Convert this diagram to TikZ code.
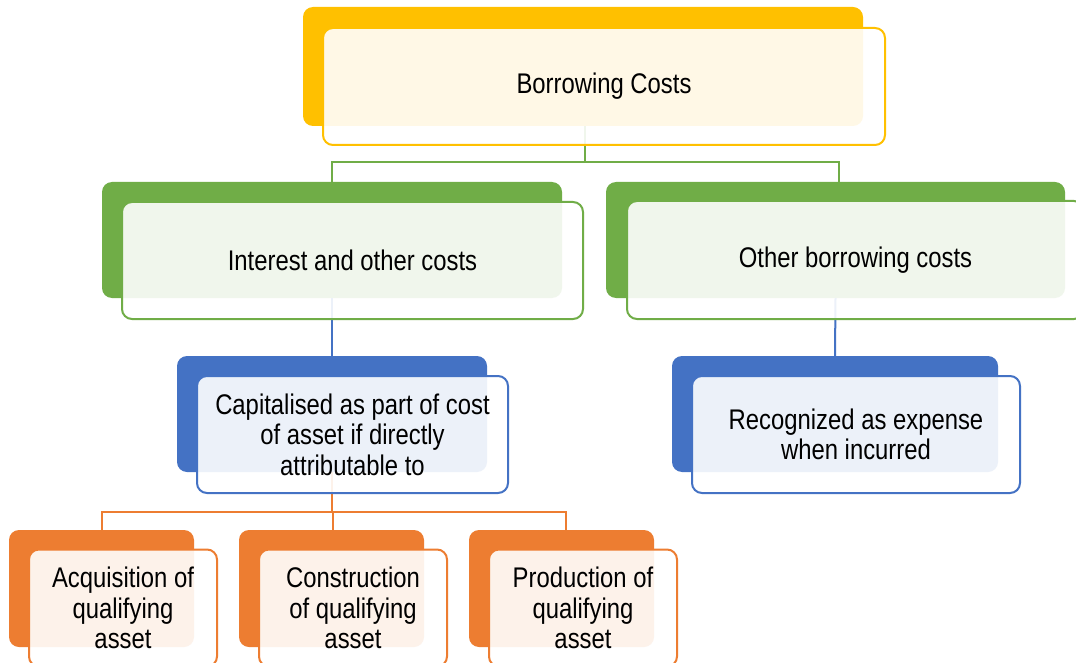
\documentclass[tikz,border=0pt]{standalone}
\usepackage{fontspec}
\setmainfont{Liberation Sans}[FakeStretch=0.84]
\definecolor{cyel}{HTML}{FFC000}
\definecolor{cgrn}{HTML}{70AD47}
\definecolor{cblu}{HTML}{4472C4}
\definecolor{cora}{HTML}{ED7D31}
\tikzset{
  backbox/.style={rectangle, rounded corners=10pt, fill=#1, draw=none, inner sep=0pt},
  frontbox/.style={rectangle, rounded corners=10pt, draw=#1, line width=2pt,
    fill=white, fill opacity=0.9, text opacity=1, draw opacity=1, inner sep=0pt,
    align=center, font=\fontsize{28.4}{30.5}\selectfont},
  conn/.style={draw=#1, line width=2pt},
}
\begin{document}
\begin{tikzpicture}[x=1pt,y=-1pt]
\useasboundingbox (0,0) rectangle (1076,663);
\clip (0,0) rectangle (1076,663);
\fill[white] (0,0) rectangle (1076,663);
% back boxes
\node[backbox=cyel, minimum width=560pt, minimum height=119pt] (bcB) at (583,66.5) {};
\node[backbox=cgrn, minimum width=460pt, minimum height=116pt] (ioB) at (332,240) {};
\node[backbox=cgrn, minimum width=459pt, minimum height=116pt] (obB) at (835.5,240) {};
\node[backbox=cblu, minimum width=310pt, minimum height=116pt] (capB) at (332,414) {};
\node[backbox=cblu, minimum width=326pt, minimum height=116pt] (recB) at (835,414) {};
\node[backbox=cora, minimum width=185pt, minimum height=117pt] (aqB) at (101.5,588.5) {};
\node[backbox=cora, minimum width=185pt, minimum height=117pt] (coB) at (331.5,588.5) {};
\node[backbox=cora, minimum width=185pt, minimum height=117pt] (prB) at (561.5,588.5) {};
% connectors
\coordinate (bus1) at (0,162);
\coordinate (bus3) at (0,512);
\draw[conn=cgrn] ([xshift=2pt]bcB.south) -- ([xshift=2pt]bcB.south |- bus1) -| (ioB.north);
\draw[conn=cgrn] ([xshift=2pt]bcB.south |- bus1) -| ([xshift=3.5pt]obB.north);
\draw[conn=cblu] (ioB.south) -- (capB.north);
\draw[conn=cblu] (obB.south) -- (recB.north);
\draw[conn=cora] (capB.south) -- (capB.south |- bus3) -| (aqB.north);
\draw[conn=cora] (capB.south |- bus3) -| ([xshift=1.5pt]coB.north);
\draw[conn=cora] (capB.south |- bus3) -| ([xshift=4.5pt]prB.north);
% front boxes
\node[frontbox=cyel, minimum width=562pt, minimum height=117pt] (bc) at (604,86.5) {Borrowing Costs};
\node[frontbox=cgrn, minimum width=461pt, minimum height=117pt] (io) at (352.5,260.5) {Interest and other costs};
\node[frontbox=cgrn, minimum width=457pt, minimum height=118pt] (ob) at (855.5,260) {Other borrowing costs};
\node[frontbox=cblu, minimum width=311pt, minimum height=117pt] (cap) at (352.5,434.5) {Capitalised as part of cost\\of asset if directly\\attributable to};
\node[frontbox=cblu, minimum width=328pt, minimum height=117pt] (rec) at (856,434.5) {Recognized as expense\\when incurred};
\node[frontbox=cora, minimum width=188pt, minimum height=117pt] (aq) at (123,608) {Acquisition of\\qualifying\\asset};
\node[frontbox=cora, minimum width=188pt, minimum height=117pt] (co) at (353,608) {Construction\\of qualifying\\asset};
\node[frontbox=cora, minimum width=188pt, minimum height=117pt] (pr) at (583,608) {Production of\\qualifying\\asset};
\end{tikzpicture}
\end{document}
